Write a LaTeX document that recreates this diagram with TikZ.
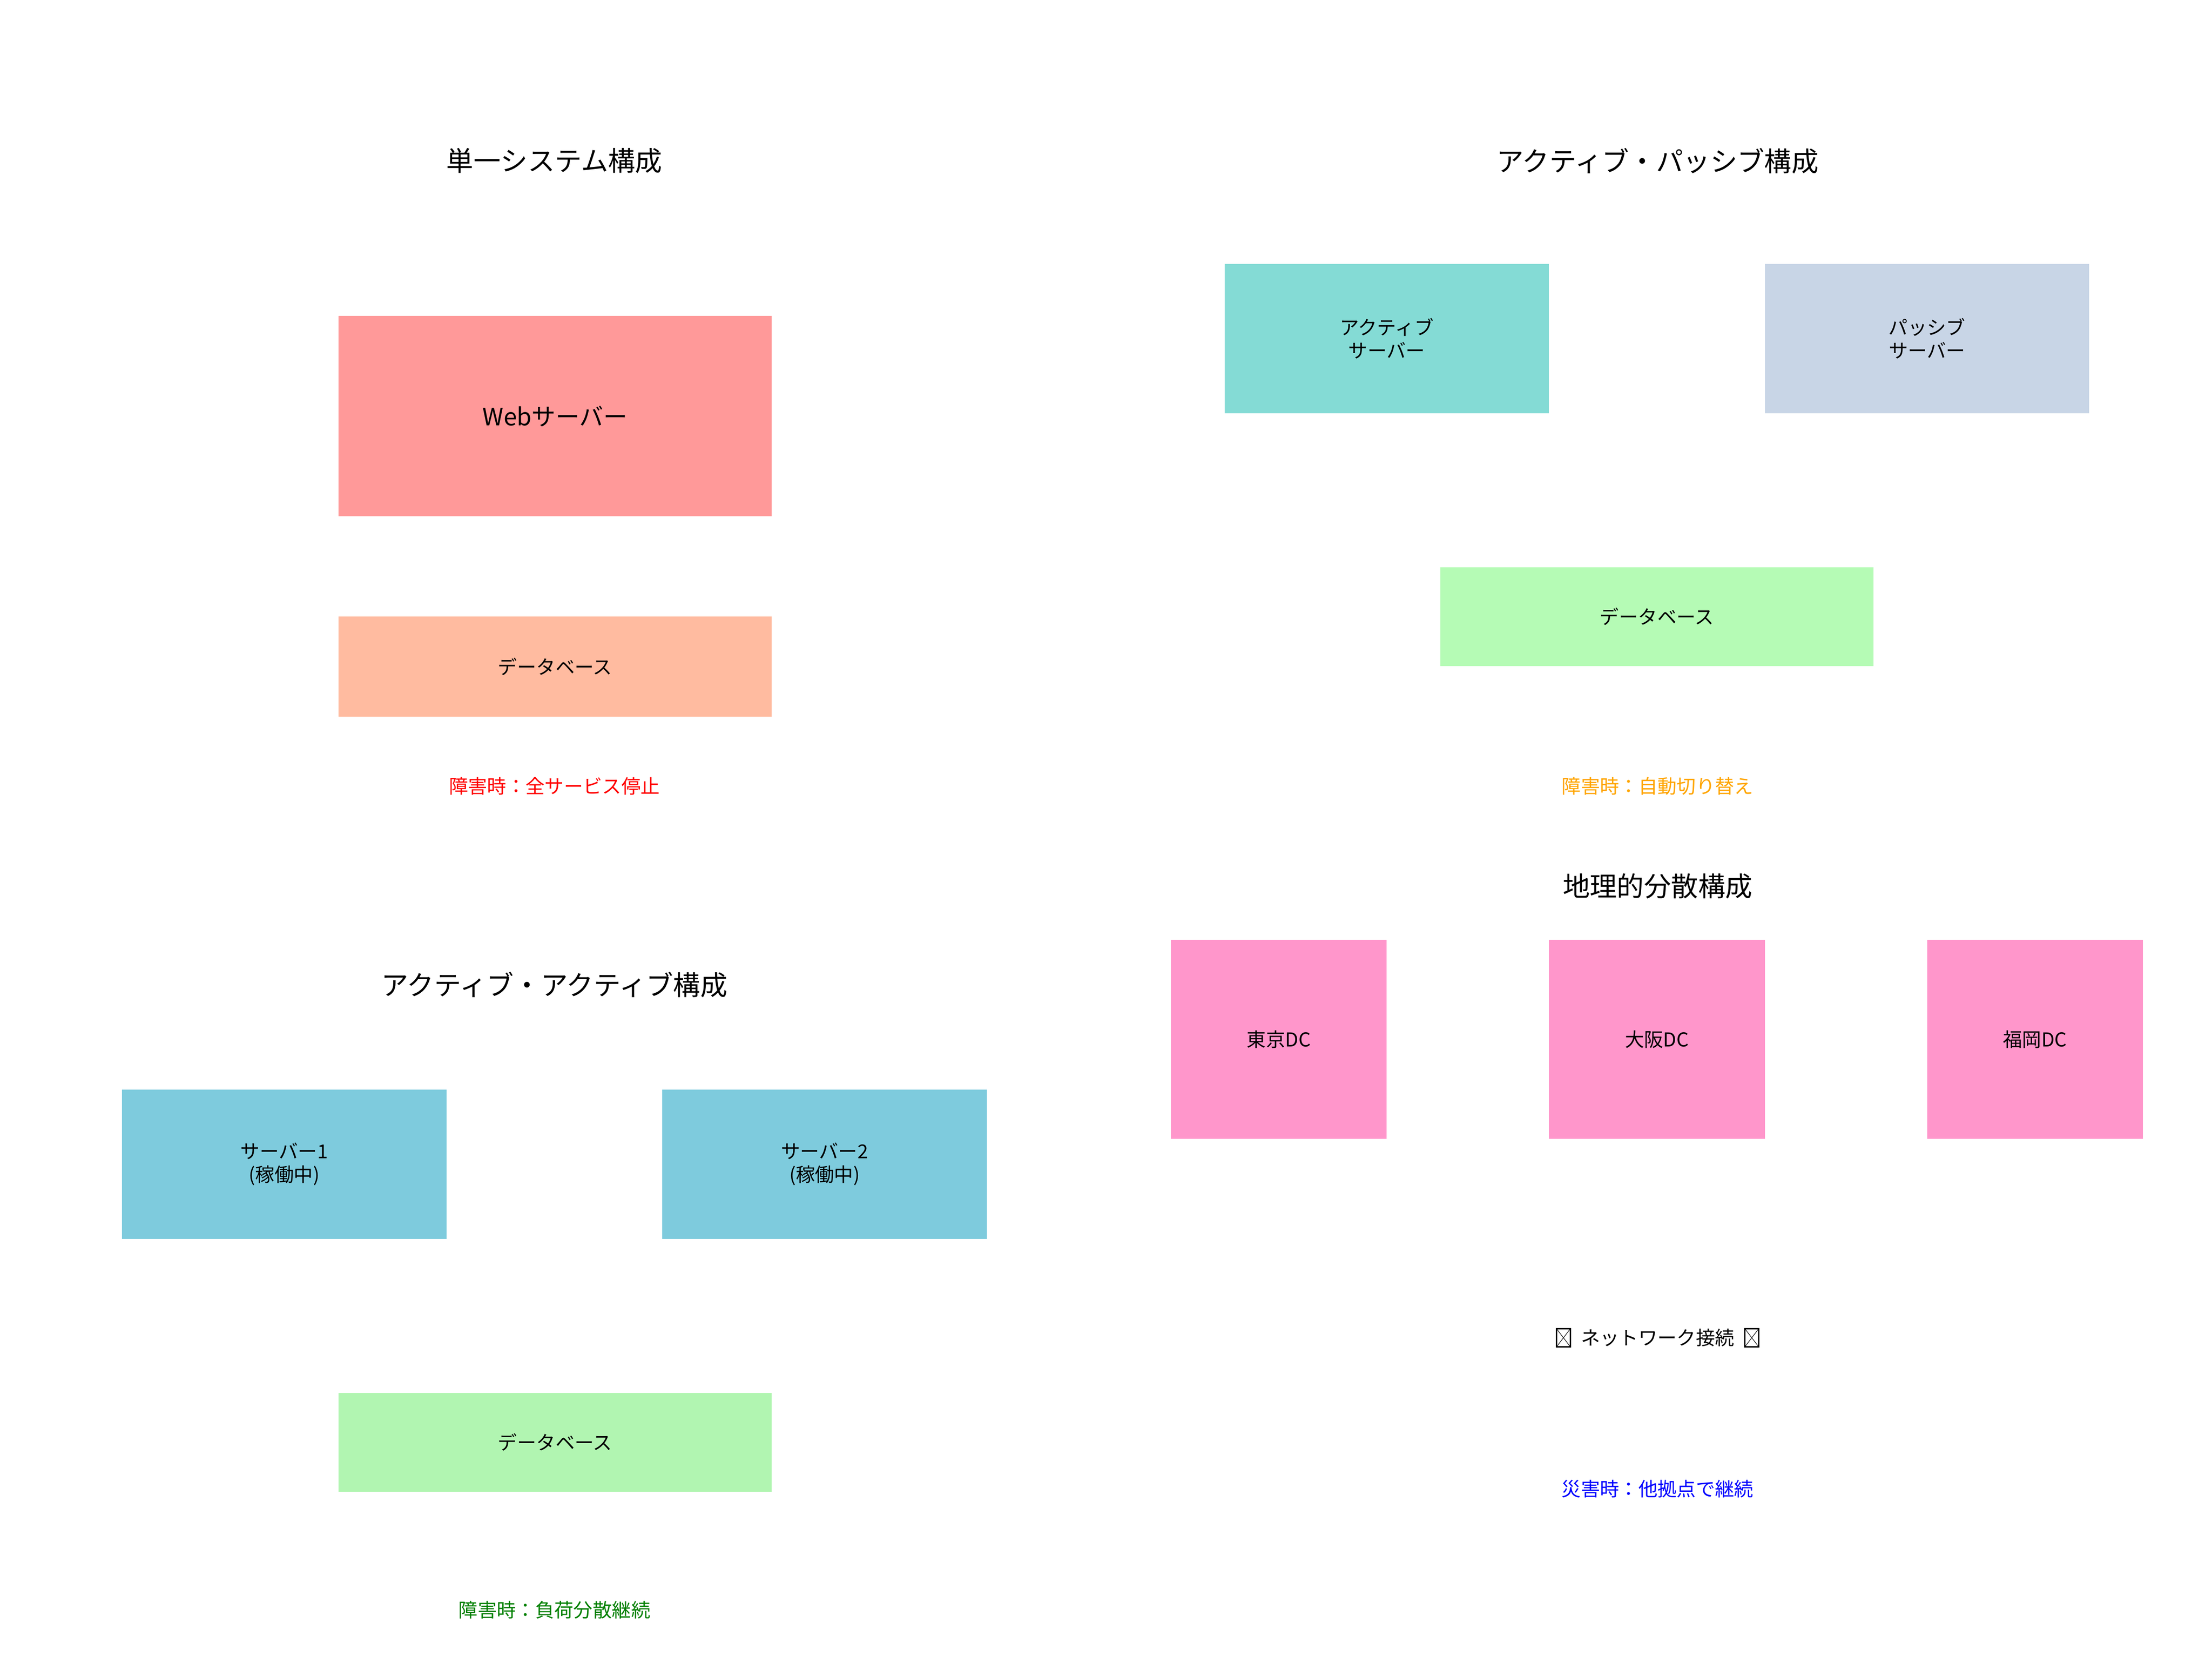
\documentclass[tikz,border=0pt]{standalone}
\usepackage{fontspec}
\setmainfont{Noto Sans CJK JP}
\definecolor{webred}{HTML}{FF9999}
\definecolor{dbpeach}{HTML}{FFBBA0}
\definecolor{actteal}{HTML}{84DBD5}
\definecolor{passblue}{HTML}{C8D5E6}
\definecolor{dbgreenA}{HTML}{B5FBB5}
\definecolor{dbgreenB}{HTML}{B1F5B1}
\definecolor{srvblue}{HTML}{7ECBDD}
\definecolor{dcpink}{HTML}{FF96CB}
\definecolor{noteorange}{HTML}{FFA500}
\definecolor{notegreen}{HTML}{008000}
\newcommand{\tofubox}{\tikz[x=1pt,y=1pt,baseline=0pt]{\draw[line width=0.9pt] (0.5,-1.2) rectangle (10.3,11.6); \draw[line width=0.35pt] (0.5,-1.2) -- (10.3,11.6) (0.5,11.6) -- (10.3,-1.2);}}
\tikzset{
  titletext/.style={font=\fontsize{19.2}{23}\selectfont, inner sep=0pt},
  smalltext/.style={font=\fontsize{13.6}{16.5}\selectfont, inner sep=0pt, align=center},
  box/.style={draw=none, inner sep=0pt, font=\fontsize{13.6}{16.5}\selectfont, align=center},
}
\begin{document}
\begin{tikzpicture}[x=1pt,y=-1pt]
\useasboundingbox (0,0) rectangle (1568,1173.5);
\fill[white] (0,0) rectangle (1568,1173.5);
% single system
\node[titletext] (t1) at (393,114) {単一システム構成};
\node[box, fill=webred, minimum width=307pt, minimum height=142pt, font=\fontsize{17}{20}\selectfont] (web) at (393.5,295) {Webサーバー};
\node[box, fill=dbpeach, minimum width=307pt, minimum height=71pt] (db1) at (393.5,472.5) {データベース};
\node[smalltext, text=red] (n1) at (393,557) {障害時：全サービス停止};
% active passive
\node[titletext] (t2) at (1175,114) {アクティブ・パッシブ構成};
\node[box, fill=actteal, minimum width=230pt, minimum height=106pt] (act) at (983,240) {アクティブ\\サーバー};
\node[box, fill=passblue, minimum width=230pt, minimum height=106pt] (pas) at (1366,240) {パッシブ\\サーバー};
\node[box, fill=dbgreenA, minimum width=307pt, minimum height=70pt] (db2) at (1174.5,437) {データベース};
\node[smalltext, text=noteorange] (n2) at (1175,557) {障害時：自動切り替え};
% geographic
\node[titletext] (t3) at (1175,628) {地理的分散構成};
\node[box, fill=dcpink, minimum width=153pt, minimum height=141pt] (tokyo) at (906.5,736.5) {東京DC};
\node[box, fill=dcpink, minimum width=153pt, minimum height=141pt] (osaka) at (1174.5,736.5) {大阪DC};
\node[box, fill=dcpink, minimum width=153pt, minimum height=141pt] (fukuoka) at (1442.5,736.5) {福岡DC};
\node[smalltext] (net) at (1175,948) {\tofubox\hspace{7pt}ネットワーク接続\hspace{7pt}\tofubox};
\node[smalltext, text=blue] (n3) at (1175,1055) {災害時：他拠点で継続};
% active active
\node[titletext] (t4) at (393,698) {アクティブ・アクティブ構成};
\node[box, fill=srvblue, minimum width=230pt, minimum height=106pt] (s1) at (201.5,825) {サーバー1\\(稼働中)};
\node[box, fill=srvblue, minimum width=230pt, minimum height=106pt] (s2) at (584.5,825) {サーバー2\\(稼働中)};
\node[box, fill=dbgreenB, minimum width=307pt, minimum height=70pt] (db3) at (393.5,1022) {データベース};
\node[smalltext, text=notegreen] (n4) at (393,1141) {障害時：負荷分散継続};
\end{tikzpicture}
\end{document}
